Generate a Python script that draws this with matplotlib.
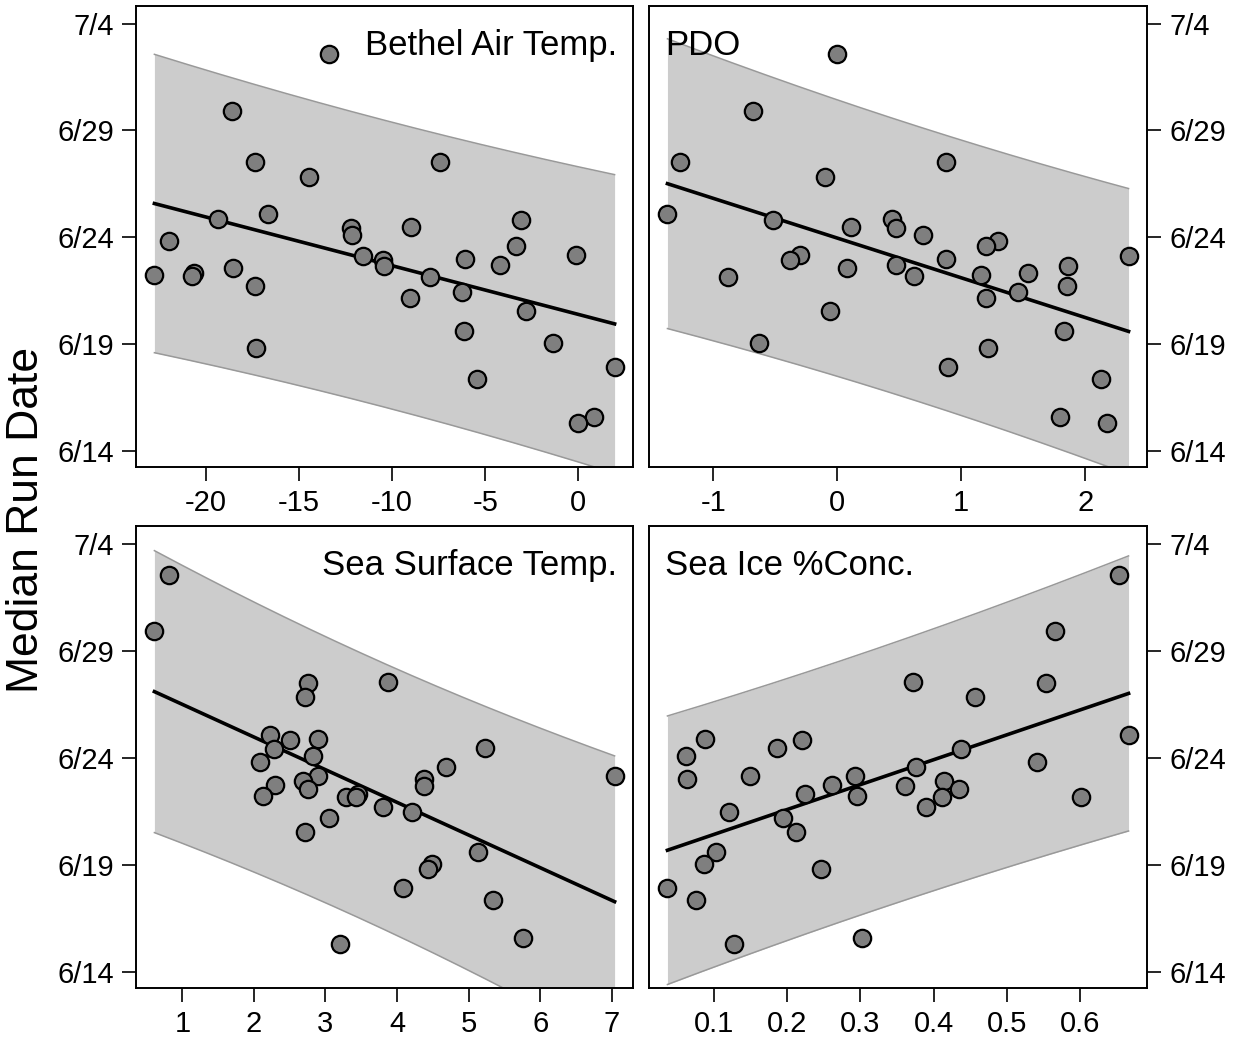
import numpy as np
import matplotlib
matplotlib.use("Agg")
import matplotlib.pyplot as plt

plt.rcParams['font.family'] = ['Liberation Sans', 'DejaVu Sans']
plt.rcParams['axes.unicode_minus'] = False

# median run date (day of year), one value per year, latest first
run_doy = [183.55, 180.90, 178.54, 178.50, 177.82, 176.06, 175.86, 175.81, 175.47, 175.42,
           175.09, 174.80, 174.58, 174.16, 174.14, 173.99, 173.91, 173.71, 173.66, 173.55,
           173.31, 173.21, 173.18, 173.14, 172.69, 172.44, 172.16, 171.54, 170.59, 170.03,
           169.82, 168.92, 168.34, 166.59, 166.31]

# covariates for the same years
bethel_air = [-13.40, -18.59, -7.44, -17.39, -14.49, -16.68, -19.38, -3.08, -8.97, -12.22,
              -12.13, -21.98, -3.32, -0.14, -11.58, -6.10, -10.47, -4.23, -10.45, -18.55,
              -20.62, -22.77, -20.77, -7.99, -17.36, -6.24, -9.06, -2.82, -6.13, -1.37,
              -17.32, 1.95, -5.42, 0.82, -0.01]
pdo = [0.00, -0.68, 0.88, -1.27, -0.10, -1.37, 0.44, -0.52, 0.11, 0.47,
       0.69, 1.30, 1.20, -0.30, 2.35, 0.88, -0.38, 0.47, 1.86, 0.08,
       1.54, 1.16, 0.62, -0.88, 1.85, 1.46, 1.20, -0.06, 1.83, -0.63,
       1.22, 0.89, 2.13, 1.80, 2.18]
sst = [0.81, 0.61, 3.87, 2.75, 2.72, 2.22, 2.90, 2.50, 5.23, 2.28,
       2.82, 2.08, 4.68, 2.89, 7.04, 4.37, 2.68, 2.29, 4.38, 2.76,
       3.46, 2.13, 3.29, 3.42, 3.80, 4.21, 3.05, 2.72, 5.13, 4.49,
       4.43, 4.09, 5.34, 5.76, 3.21]
sea_ice = [0.653, 0.566, 0.372, 0.554, 0.456, 0.666, 0.088, 0.221, 0.187, 0.437,
           0.062, 0.541, 0.376, 0.149, 0.293, 0.063, 0.414, 0.262, 0.361, 0.435,
           0.224, 0.295, 0.411, 0.601, 0.390, 0.121, 0.195, 0.212, 0.103, 0.087,
           0.246, 0.037, 0.076, 0.303, 0.128]

date_ticks = [165, 170, 175, 180, 185]
date_labels = ['6/14', '6/19', '6/24', '6/29', '7/4']

panel_names = ['Bethel Air Temp.', 'PDO', 'Sea Surface Temp.', 'Sea Ice %Conc.']
panel_x = [bethel_air, pdo, sst, sea_ice]
panel_xticks = [[-20, -15, -10, -5, 0], [-1, 0, 1, 2],
                [1, 2, 3, 4, 5, 6, 7], [0.1, 0.2, 0.3, 0.4, 0.5, 0.6]]

W, H = 1239, 1040
fig = plt.figure(figsize=(W / 100, H / 100), dpi=100)

# axes boxes in pixels: left, top, right, bottom
boxes = [(136, 6, 633, 467), (649, 6, 1147, 467),
         (136, 526, 633, 988), (649, 526, 1147, 988)]

T975 = 2.0345  # t quantile, 33 df


def fit_band(x, y):
    x = np.asarray(x, float)
    y = np.asarray(y, float)
    n = len(x)
    b, a = np.polyfit(x, y, 1)
    resid = y - (a + b * x)
    s = np.sqrt(np.sum(resid ** 2) / (n - 2))
    sxx = np.sum((x - x.mean()) ** 2)
    xs = np.linspace(x.min(), x.max(), 200)
    yhat = a + b * xs
    se = s * np.sqrt(1 + 1 / n + (xs - x.mean()) ** 2 / sxx)
    return xs, yhat, yhat - T975 * se, yhat + T975 * se


for i, (name, xv, xt, box) in enumerate(zip(panel_names, panel_x, panel_xticks, boxes)):
    l, t, r, b = box
    ax = fig.add_axes([l / W, 1 - b / H, (r - l) / W, (b - t) / H])

    xs, yhat, lo, hi = fit_band(xv, run_doy)
    ax.fill_between(xs, lo, hi, color='#cccccc', lw=0, zorder=1)
    ax.plot(xs, lo, color='#999999', lw=1.1, zorder=2)
    ax.plot(xs, hi, color='#999999', lw=1.1, zorder=2)
    ax.plot(xs, yhat, color='black', lw=2.6, zorder=3)
    ax.plot(xv, run_doy, 'o', ms=12.5, mfc='#7f7f7f', mec='black', mew=1.6, zorder=4)

    span = max(xv) - min(xv)
    ax.set_xlim(min(xv) - 0.04 * span, max(xv) + 0.04 * span)
    ax.set_ylim(164.24, 185.82)
    ax.set_xticks(xt)
    ax.set_yticks(date_ticks, date_labels)

    ax.tick_params(direction='out', length=10, width=1.2, labelsize=21, pad=6)
    for sp in ax.spines.values():
        sp.set_linewidth(1.4)

    if i % 2 == 1:
        ax.yaxis.tick_right()
        ax.annotate(name, xy=(0, 1), xycoords='axes fraction', xytext=(11.5, -16.5),
                    textcoords='offset points', ha='left', va='top', fontsize=25)
    else:
        ax.annotate(name, xy=(1, 1), xycoords='axes fraction', xytext=(-11.5, -16.5),
                    textcoords='offset points', ha='right', va='top', fontsize=25)

fig.text(27 / W, 0.5, 'Median Run Date', rotation=90, ha='center', va='center', fontsize=32)

fig.savefig('out.png', dpi=100)
